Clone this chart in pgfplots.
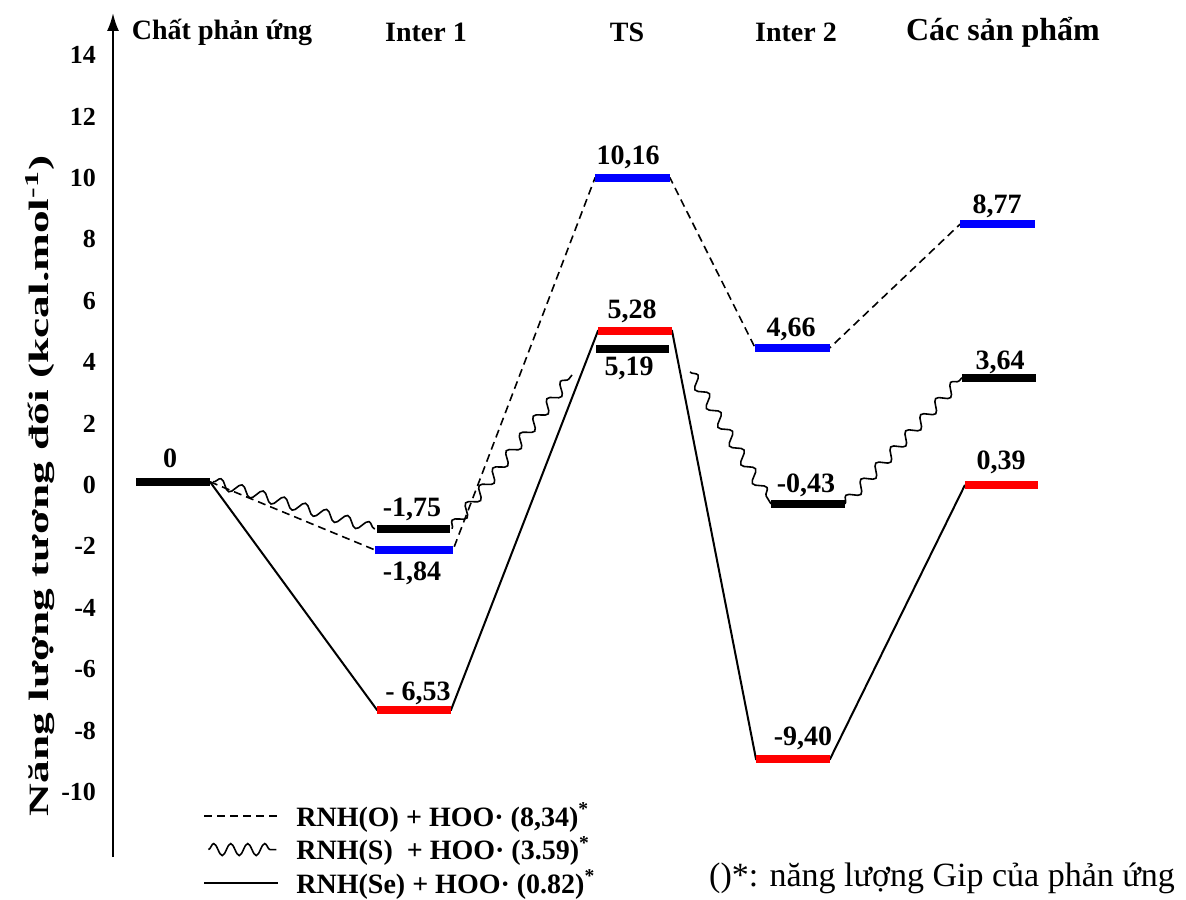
\documentclass[border=0pt]{standalone}
\usepackage{fontspec}
\setmainfont{Liberation Serif}
\usepackage{graphicx}
\usepackage{pgfplots}
\pgfplotsset{compat=1.18}
\usetikzlibrary{arrows.meta,decorations.pathmorphing}
\definecolor{lvblue}{RGB}{0,0,255}
\definecolor{lvred}{RGB}{255,0,0}
\begin{document}
\begin{tikzpicture}
\useasboundingbox (0,0) rectangle (593pt,449.5pt);
\begin{axis}[
  at={(56.5pt,21pt)}, anchor=south west,
  scale only axis, width=493.5pt, height=422pt,
  xmin=113, xmax=1100, ymin=-12.12, ymax=15.37,
  axis x line=none,
  axis y line=left,
  y axis line style={line width=1.1pt, -{Latex[length=9pt,width=6pt]}},
  ytick={-10,-8,-6,-4,-2,0,2,4,6,8,10,12,14},
  yticklabels={-10,-8,-6,-4,-2,0,2,4,6,8,10,12,14},
  major tick length=0pt,
  yticklabel style={font=\bfseries\fontsize{13}{15}\selectfont, xshift=-5pt},
  ylabel={\scalebox{1.62}[1]{Năng lượng tương đối (kcal.mol\textsuperscript{-1})}},
  ylabel style={at={(axis description cs:-0.074,0.44)}, anchor=center, font=\bfseries\fontsize{14}{16}\selectfont},
  clip=false,
  legend cell align=left,
  legend style={at={(axis cs:197,-10.12)}, anchor=north west, draw=none, fill=none,
    font=\bfseries\fontsize{14}{16}\selectfont, row sep=0.5pt, column sep=7pt,
    nodes={inner sep=1.5pt}},
]
% ---- connectors (drawn under the levels) ----
% RNH(O): dashed
\addplot[forget plot, black, line width=0.8pt, dash pattern=on 4pt off 2.5pt]
  coordinates {(210,0.1) (375,-2.12) (453,-2.12) (595,10.0) (670,10.0) (755,4.47) (830,4.47) (960,8.49)};
% RNH(Se): solid
\addplot[forget plot, black, line width=1pt]
  coordinates {(210,0.1) (377,-7.33) (451,-7.33) (598,5.02) (672,5.02) (756,-8.93) (830,-8.93) (965,0.0)};
% RNH(S): wavy
\addplot[forget plot, black, line width=0.8pt, decorate, decoration={snake, amplitude=2.6pt, segment length=11pt}]
  coordinates {(213,0.1) (375,-1.43)};
\addplot[forget plot, black, line width=0.8pt, decorate, decoration={snake, amplitude=2.6pt, segment length=11pt}]
  coordinates {(452,-1.43) (572,3.58)};
\addplot[forget plot, black, line width=0.8pt, decorate, decoration={snake, amplitude=2.6pt, segment length=11pt}]
  coordinates {(690,3.68) (771,-0.62)};
\addplot[forget plot, black, line width=0.8pt, decorate, decoration={snake, amplitude=2.6pt, segment length=11pt}]
  coordinates {(845,-0.62) (962,3.49)};
% ---- energy levels ----
\addplot[forget plot, black, line width=4.2pt] coordinates {(136,0.1) (210,0.1)};
% RNH(O)
\addplot[forget plot, lvblue, line width=4pt] coordinates {(375,-2.12) (453,-2.12)};
\addplot[forget plot, lvblue, line width=4pt] coordinates {(595,10.0) (670,10.0)};
\addplot[forget plot, lvblue, line width=4pt] coordinates {(755,4.47) (830,4.47)};
\addplot[forget plot, lvblue, line width=4pt] coordinates {(960,8.49) (1035,8.49)};
% RNH(S)
\addplot[forget plot, black, line width=4.2pt] coordinates {(377,-1.43) (450,-1.43)};
\addplot[forget plot, black, line width=4.2pt] coordinates {(596,4.42) (669,4.42)};
\addplot[forget plot, black, line width=4.2pt] coordinates {(771,-0.62) (845,-0.62)};
\addplot[forget plot, black, line width=4.2pt] coordinates {(962,3.49) (1036,3.49)};
% RNH(Se)
\addplot[forget plot, lvred, line width=4pt] coordinates {(377,-7.33) (451,-7.33)};
\addplot[forget plot, lvred, line width=4pt] coordinates {(598,5.02) (672,5.02)};
\addplot[forget plot, lvred, line width=4pt] coordinates {(756,-8.93) (830,-8.93)};
\addplot[forget plot, lvred, line width=4pt] coordinates {(965,0.0) (1038,0.0)};
% ---- value labels ----
\begin{scope}[every node/.style={font=\bfseries\fontsize{14}{16}\selectfont, inner sep=0pt}]
\node at (axis cs:170,0.88) {0};
\node at (axis cs:412,-0.81) {-1,75};
\node at (axis cs:412,-2.87) {-1,84};
\node at (axis cs:418,-6.78) {- 6,53};
\node at (axis cs:632,5.64) {5,28};
\node at (axis cs:629,3.81) {5,19};
\node at (axis cs:628,10.68) {10,16};
\node at (axis cs:791,5.05) {4,66};
\node at (axis cs:806,0.0) {-0,43};
\node at (axis cs:803,-8.24) {-9,40};
\node at (axis cs:997,9.06) {8,77};
\node at (axis cs:1000,4.0) {3,64};
\node at (axis cs:1001,0.75) {0,39};
% ---- stage names ----
\node at (axis cs:222,14.75) {Chất phản ứng};
\node at (axis cs:426,14.75) {Inter 1};
\node at (axis cs:627,14.75) {TS};
\node at (axis cs:796,14.75) {Inter 2};
\node[font=\bfseries\fontsize{16}{18}\selectfont] at (axis cs:1003,14.75) {Các sản phẩm};
\node[font=\fontsize{17}{19}\selectfont] at (axis cs:942,-12.8) {()*: năng lượng Gip của phản ứng};
\end{scope}
% ---- legend ----
\addlegendimage{legend image code/.code={\draw[black, line width=0.8pt, dash pattern=on 4pt off 2.5pt] (0pt,0pt) -- (37pt,0pt);}}
\addlegendentry{RNH(O) + HOO· (8,34)\textsuperscript{*}}
\addlegendimage{legend image code/.code={\draw[black, line width=0.8pt, decorate, decoration={snake, amplitude=3pt, segment length=8.5pt}] (2pt,0pt) -- (36pt,0pt);}}
\addlegendentry{RNH(S)\ \ + HOO· (3.59)\textsuperscript{*}}
\addlegendimage{legend image code/.code={\draw[black, line width=1pt] (0pt,0pt) -- (37pt,0pt);}}
\addlegendentry{RNH(Se) + HOO· (0.82)\textsuperscript{*}}
\end{axis}
\end{tikzpicture}
\end{document}
